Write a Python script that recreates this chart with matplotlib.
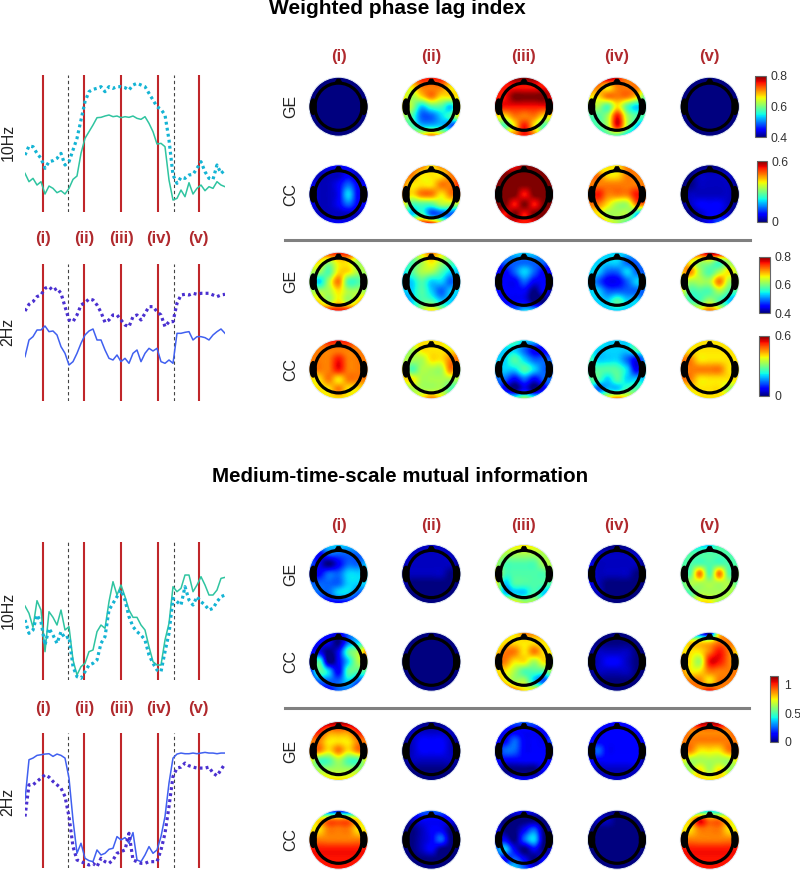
import numpy as np
import matplotlib
matplotlib.use("Agg")
import matplotlib.pyplot as plt
from matplotlib.patches import Circle, Ellipse, Polygon
from matplotlib.cm import ScalarMappable
from matplotlib.colors import Normalize

plt.rcParams['font.family'] = ['Liberation Sans', 'DejaVu Sans']

W, H = 800, 872

# time traces, arbitrary units
wpli_10hz_solid = [115,90,100,80,90,53,77,70,57,63,53,70,97,107,175,220,240,260,282,283,287,290,285,287,282,285,283,287,280,277,285,265,240,203,205,195,95,35,40,65,45,87,53,70,80,63,75,70,90,80,75]
wpli_10hz_dotted = [170,197,195,175,160,130,150,153,160,175,140,150,185,220,275,330,360,367,370,375,360,375,370,375,375,372,365,380,385,380,375,355,335,315,307,290,215,110,85,103,100,110,112,130,150,120,100,97,140,115,125]
wpli_2hz_solid = [133,183,193,213,213,225,208,210,198,163,143,108,118,143,173,198,210,216,183,183,153,128,123,138,118,128,113,143,153,118,143,158,150,158,118,113,123,113,203,203,206,208,183,193,193,190,183,198,208,216,203]
wpli_2hz_dotted = [270,290,298,313,318,338,343,331,338,323,283,243,238,258,288,295,306,303,288,266,236,243,258,258,243,228,223,253,258,243,263,283,283,268,258,223,238,238,293,318,320,318,323,320,323,323,323,318,313,318,320]
mi_10hz_solid = [222,200,158,238,210,85,205,188,165,210,150,160,60,15,40,50,85,90,145,165,155,235,295,255,285,250,210,188,188,165,150,100,55,45,45,120,170,280,265,275,315,315,265,285,310,285,255,255,270,305,308]
mi_10hz_dotted = [180,140,150,195,175,105,155,135,110,145,125,130,40,10,5,25,45,50,60,110,130,210,230,250,270,240,190,160,145,135,120,75,50,30,25,85,140,245,235,225,280,240,225,250,235,225,210,215,235,250,255]
mi_2hz_solid = [204,324,329,337,339,341,342,334,341,337,329,269,144,44,74,29,22,19,54,39,44,56,59,94,84,91,74,106,24,19,39,64,44,54,94,154,254,329,341,344,342,342,344,342,344,346,344,344,342,344,344]
mi_2hz_dotted = [154,249,249,259,269,279,272,259,249,239,214,154,64,24,19,14,9,14,4,29,19,14,24,44,49,54,104,24,19,14,14,19,19,19,54,104,184,274,299,302,314,306,302,299,299,299,302,284,276,294,312]

state_times = [4.6, 14.7, 24, 33.3, 43.4]
transition_times = [10.8, 37.2]
state_labels = ['(i)', '(ii)', '(iii)', '(iv)', '(v)']

# scalp maps, 7 rows top to bottom, digits 0-9 = low to high end of the colour bar, a = 0.5
wpli_10hz_ge = ["0000000 0000000 0000000 0000000 0000000 0000000 0000000",
                "7788877 6677766 6567666 6534436 5422346 4433321 4567652",
                "8899988 8888888 8899998 8888888 6677766 5468645 6778754",
                "8898777 7767776 6677764 5546434 4458544 4458532 3344321",
                "0000000 0000000 0000000 0000000 0000000 0000000 0000000"]
wpli_10hz_cc = ["1111111 1aaa1a1 1aa1211 1aa1311 1aa1211 1aaaaa1 1111111",
                "7776777 7766677 7666778 7677677 6444555 5342221 6788631",
                "9889998 9999999 9999999 9998999 9989899 9898998 8988899",
                "5566777 7766777 7777777 7877787 7765577 6655532 8865431",
                "0000000 00aaaa0 00aaaa0 0aaaaa0 0a111a0 00a11a0 aaa1221"]
wpli_2hz_ge = ["7788877 6656656 5546655 5357445 5556555 6656567 7788877",
               "5567655 4456544 3455433 3343323 3343233 2344332 2356532",
               "2233322 1222221 1123211 1112111 1111010 1111001 2223322",
               "3333333 3333223 3322322 3211233 3322222 3334332 3333333",
               "7889987 7655455 6754565 6555755 6444544 5445432 4667642"]
wpli_2hz_cc = ["7788877 7777777 7778777 7778777 6676777 6667666 6666666",
               "6666655 5566666 5556677 6455575 6655555 4555544 3567654",
               "4443322 3332111 3343222 3334322 2212122 3101013 4445442",
               "5433345 4333344 4333213 4444314 4434333 4233444 5567654",
               "6666666 6666666 7766666 7777766 7766666 5666655 3566663"]
mi_10hz_ge = ["3333333 2122222 2101223 1122333 2222333 2223322 1111112",
              "aaaaaaa 1aaaaa0 aaaaaa0 aaaaa00 a000000 0000000 0000000",
              "7666666 6555555 5444455 6444445 6344444 6333433 7765544",
              "0000000 0aaaaa0 1aaaaa0 1aaaa00 1a00000 0a00000 0000000",
              "4333444 4444444 4444444 5474745 4555554 4455555 4566554"]
mi_10hz_cc = ["1111233 1110234 1101457 1401355 1431444 1222322 1112211",
              "0000000 0000000 0000000 0000000 0000000 0000000 0000000",
              "5667777 5666666 6776766 7766565 6654445 7655324 8876666",
              "0000000 0000000 0aaaa00 0a11a00 0aaaa00 0000000 0000000",
              "4210677 5666777 6667876 7658876 7667777 7776777 7778777"]
mi_2hz_ge = ["8999998 8877788 7766677 7767677 6445446 5555555 5666665",
             "0000000 0aaaaa0 0a111a0 0a111a0 0aaaaa0 0000000 0000000",
             "2222222 1111112 1121112 1221111 1111111 1000011 2111112",
             "1111111 1111110 1111111 1211111 1111110 1aaaaa0 aaaaaaa",
             "8899988 8777778 7777777 7766677 6555556 5565655 6666666"]
mi_2hz_cc = ["2211122 5677765 6677766 7777777 8888888 8888888 8888888",
             "1122211 0a1111a 00a1100 00a1200 00a1000 0000000 0000000",
             "1111111 1000001 1001200 1102300 2310101 2121010 3332110",
             "0000000 0aa0000 0000000 0000000 0000000 0000000 0000000",
             "4333344 6687765 6677766 7777777 8888888 8888888 8888888"]

DARK_RED = '#b02a2e'
TEXT = '#222222'


def px_axes(fig, x0, y0, x1, y1):
    # axes from pixel box, y counted from the top of the image
    return fig.add_axes([x0 / W, 1 - y1 / H, (x1 - x0) / W, (y1 - y0) / H])


def fig_text(fig, x, y, s, **kw):
    fig.text(x / W, 1 - y / H, s, ha='center', va='center', **kw)


def draw_trace(fig, box, ymax, solid, dotted, col_solid, col_dotted):
    ax = px_axes(fig, *box)
    t = np.arange(len(solid))
    for tt in state_times:
        ax.axvline(tt, color='#c0262a', lw=1.5, zorder=1)
    for tt in transition_times:
        ax.axvline(tt, color='#444444', lw=0.8, ls=(0, (3, 2.5)), zorder=1)
    ax.plot(t, solid, color=col_solid, lw=1.1, zorder=2)
    ax.plot(t, dotted, color=col_dotted, lw=2.3, ls=(0, (0.9, 1.0)), zorder=3)
    ax.set_xlim(0, 50)
    ax.set_ylim(0, ymax)
    ax.axis('off')


def parse_map(digits):
    rows = [[0.5 if c == 'a' else int(c) for c in row] for row in digits.split()]
    return np.array(rows) / 9


def draw_map(fig, cx, cy, digits, r=29.5):
    pad = 1.1
    ax = px_axes(fig, cx - r * pad, cy - r * pad, cx + r * pad, cy + r * pad)
    e = 1 + 1 / 6
    im = ax.imshow(parse_map(digits), cmap='jet', vmin=0, vmax=1, extent=[-e, e, -e, e],
                   origin='upper', interpolation='catrom', zorder=1)
    im.set_clip_path(Circle((0, 0), 1.0, transform=ax.transData))
    ax.add_patch(Circle((0, 0), 1.0, fill=False, ec='#e4edf6', lw=0.7, zorder=2))
    ax.add_patch(Circle((0, 0), 0.8, fill=False, ec='black', lw=2.3, zorder=3))
    ax.add_patch(Polygon([(-0.14, 0.78), (-0.05, 0.94), (0.05, 0.94), (0.14, 0.78)],
                         closed=True, fc='black', ec='black', lw=0.5, zorder=3))
    for sign in (-1, 1):
        ax.add_patch(Ellipse((sign * 0.86, 0), 0.2, 0.52, fc='black', ec='black', zorder=3))
    ax.set_xlim(-pad, pad)
    ax.set_ylim(-pad, pad)
    ax.axis('off')


def draw_colorbar(fig, box, vmin, vmax, ticks, labels, pad):
    cax = px_axes(fig, *box)
    sm = ScalarMappable(norm=Normalize(vmin, vmax), cmap='jet')
    cb = fig.colorbar(sm, cax=cax)
    cb.set_ticks(ticks)
    cb.set_ticklabels(labels)
    cb.ax.tick_params(length=0, labelsize=8.8, labelcolor='#333333', pad=pad)
    cb.outline.set_edgecolor('#666666')
    cb.outline.set_linewidth(0.8)


fig = plt.figure(figsize=(W / 100, H / 100), dpi=100)

fig_text(fig, 397, 8, 'Weighted phase lag index', fontsize=15, fontweight='bold', color='black')
fig_text(fig, 400, 476, 'Medium-time-scale mutual information', fontsize=14.8, fontweight='bold', color='black')

# left column
TEAL, CYAN, BLUE, INDIGO = '#2fc4a0', '#14b4d4', '#4060f0', '#4a30d0'
draw_trace(fig, (25, 75, 225, 211.7), 410, wpli_10hz_solid, wpli_10hz_dotted, TEAL, CYAN)
draw_trace(fig, (25, 264.3, 225, 401), 410, wpli_2hz_solid, wpli_2hz_dotted, BLUE, INDIGO)
draw_trace(fig, (25, 541.7, 225, 680), 415, mi_10hz_solid, mi_10hz_dotted, TEAL, CYAN)
draw_trace(fig, (25, 733, 225, 868), 404, mi_2hz_solid, mi_2hz_dotted, BLUE, INDIGO)

for name, x, y in [('10Hz', 8, 142), ('2Hz', 8, 332), ('10Hz', 8, 610), ('2Hz', 8, 802)]:
    fig_text(fig, x, y, name, fontsize=11.5, rotation=90, color=TEXT)

for y in (238, 708):
    for tt, lab in zip(state_times, state_labels):
        fig_text(fig, 25 + 4 * tt, y, lab, fontsize=12, fontweight='bold', color=DARK_RED)

# scalp maps
map_x = [338.5, 431.3, 524, 617, 709.7]
rows = [(106.7, wpli_10hz_ge, 'GE'), (194.3, wpli_10hz_cc, 'CC'),
        (281.7, wpli_2hz_ge, 'GE'), (369.3, wpli_2hz_cc, 'CC'),
        (574, mi_10hz_ge, 'GE'), (661.7, mi_10hz_cc, 'CC'),
        (751, mi_2hz_ge, 'GE'), (839.7, mi_2hz_cc, 'CC')]
for cy, maps, lab in rows:
    fig_text(fig, 291, cy, lab, fontsize=11.5, rotation=90, color=TEXT)
    for cx, digits in zip(map_x, maps):
        draw_map(fig, cx, cy, digits)

for y in (56.5, 525):
    for cx, lab in zip(map_x, state_labels):
        fig_text(fig, cx, y, lab, fontsize=12, fontweight='bold', color=DARK_RED)

# separators
for y, x1 in [(239.5, 750), (707.5, 749)]:
    fig.add_artist(plt.Line2D([285 / W, x1 / W], [1 - y / H, 1 - y / H], color='#808080', lw=2.2))

draw_colorbar(fig, (755, 76, 766, 137), 0.4, 0.8, [0.4, 0.6, 0.8], ['0.4', '0.6', '0.8'], 3)
draw_colorbar(fig, (757, 161, 767, 221.7), 0, 0.6, [0, 0.6], ['0', '0.6'], 3)
draw_colorbar(fig, (759, 256.7, 770, 313), 0.4, 0.8, [0.4, 0.6, 0.8], ['0.4', '0.6', '0.8'], 3.5)
draw_colorbar(fig, (759, 336, 769, 395.7), 0, 0.6, [0, 0.6], ['0', '0.6'], 4)
draw_colorbar(fig, (770, 676, 778, 742), 0, 1.14, [0, 0.5, 1], ['0', '0.5', '1'], 4.5)

fig.savefig('out.png', dpi=100)
